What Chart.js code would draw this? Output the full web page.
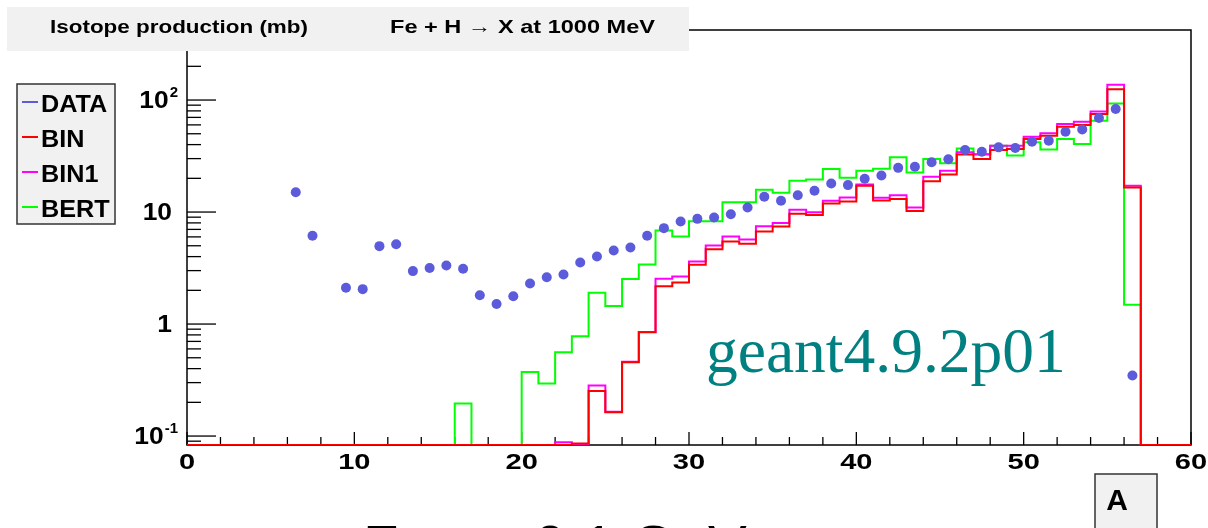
<!DOCTYPE html>
<html><head><meta charset="utf-8">
<script src="https://cdn.jsdelivr.net/npm/chart.js@4.4.1/dist/chart.umd.min.js"></script>
<style>html,body{margin:0;padding:0;background:#fff;}#wrap{width:1208px;height:528px;position:relative;}</style>
</head><body><div id="wrap"><canvas id="c"></canvas></div>
<script>
// ---- data ----
const dataX = [6.5,7.5,9.5,10.5,11.5,12.5,13.5,14.5,15.5,16.5,17.5,18.5,19.5,20.5,21.5,22.5,23.5,24.5,25.5,26.5,
  27.5,28.5,29.5,30.5,31.5,32.5,33.5,34.5,35.5,36.5,37.5,38.5,39.5,40.5,41.5,42.5,43.5,44.5,45.5,46.5,
  47.5,48.5,49.5,50.5,51.5,52.5,53.5,54.5,55.5,56.5];
const dataY = [15.0,6.14,2.11,2.05,4.96,5.16,2.97,3.16,3.33,3.12,1.81,1.51,1.77,2.30,2.62,2.77,3.55,4.01,4.54,4.83,
  6.14,7.18,8.23,8.69,8.93,9.55,10.96,13.7,12.6,14.1,15.5,18.0,17.4,19.8,21.2,24.8,25.4,27.8,29.6,35.8,
  34.6,37.8,37.3,42.5,43.4,52.1,54.7,69.2,83.2,0.347];
// histogram contents, one value per unit bin [0,1),[1,2),...,[59,60)
const binVals = [0,0,0,0,0,0,0,0,0,0,
  0,0,0,0,0,0,0,0,0,0,
  0,0,0,0.086,0.253,0.163,0.456,0.843,2.17,2.35,
  3.38,4.66,5.46,5.2,6.7,7.43,9.64,9.4,11.9,12.4,
  17.2,12.7,13.1,10.2,18.8,21.6,32.6,29.8,35.8,36.5,
  44.9,48.1,57.8,59.8,75.0,125,16.6,0,0,0];
const bin1Vals = [0,0,0,0,0,0,0,0,0,0,
  0,0,0,0,0,0,0,0,0,0,
  0,0,0.088,0,0.282,0.165,0.46,0.85,2.54,2.66,
  3.62,5.03,6.05,5.69,7.47,8.0,10.5,9.96,12.6,13.5,
  17.6,13.4,14.1,11.0,20.7,23.4,34.1,32.6,39.1,39.1,
  47.1,50.4,61.1,64.1,79.1,137,17.2,0,0,0];
const bertVals = [0,0,0,0,0,0,0,0,0,0,
  0,0,0,0,0,0,0.195,0,0,0,
  0.373,0.294,0.56,0.78,1.9,1.45,2.52,3.4,6.84,6.05,
  8.28,8.28,12.2,12.2,15.8,14.9,19.0,19.5,24.2,20.2,
  23.4,24.3,30.8,22.6,29.8,27.2,37.0,33.0,39.1,31.9,
  41.9,36.1,44.9,40.5,65.3,93.3,1.49,0,0,0];
const seriesNames = ['DATA','BIN','BIN1','BERT'];
const xTickValues = [0,10,20,30,40,50,60];
const xTickLabels = ['0','10','20','30','40','50','60'];
const yTickValues = [0.1,1,10,100];
const yTickBase = ['10','1','10','10'];
const yTickExp = ['-1','','','2'];
const titleLeft = 'Isotope production (mb)';
const titleRight = 'Fe + H \u2192 X at 1000 MeV';
const versionText = 'geant4.9.2p01';
const yMin = 0.0832, yMax = 422;

// ---- styles ----
const colors = {DATA:'#5b5bdc', BIN:'#ff0000', BIN1:'#ff00ff', BERT:'#00ff00'};

// empty bins are drawn along the bottom of the log axis (as ROOT does)
function histPoints(vals){
  const pts = vals.map((v,i)=>({x:i, y:Math.max(v, yMin)}));
  pts.push({x:vals.length, y:Math.max(vals[vals.length-1], yMin)});
  return pts;
}
function txt(ctx, s, x, y, font, color, align, base, sx){
  ctx.save(); ctx.font = font; ctx.fillStyle = color;
  ctx.textAlign = align; ctx.textBaseline = base;
  ctx.translate(x, y); ctx.scale(sx || 1, 1); ctx.fillText(s, 0, 0); ctx.restore();
}
function fitTxt(ctx, s, x, y, font, color, width){
  ctx.save(); ctx.font = font;
  const w = ctx.measureText(s).width; ctx.restore();
  txt(ctx, s, x, y, font, color, 'left', 'middle', width / w);
}
function seg(ctx, x1, y1, x2, y2){ ctx.beginPath(); ctx.moveTo(x1,y1); ctx.lineTo(x2,y2); ctx.stroke(); }

const rootPlugin = {
  id: 'rootStyle',
  beforeDraw(chart){
    const ctx = chart.ctx; ctx.save(); ctx.fillStyle = '#fff';
    ctx.fillRect(0,0,chart.width,chart.height); ctx.restore();
  },
  beforeDatasetsDraw(chart){
    const {ctx, chartArea:a, scales:{x, y}} = chart;
    ctx.save(); ctx.strokeStyle = '#000'; ctx.lineWidth = 1.5;
    ctx.strokeRect(a.left, a.top, a.right - a.left, a.bottom - a.top);
    ctx.lineWidth = 1.3;
    for (let v = 0; v <= 60; v += 2){
      const px = x.getPixelForValue(v);
      seg(ctx, px, a.bottom, px, a.bottom - (v % 10 === 0 ? 13 : 8));
    }
    for (let d = -2; d <= 3; d++){
      for (let m = 1; m <= 9; m++){
        const v = m * Math.pow(10, d);
        if (v < y.min || v > y.max) continue;
        const py = y.getPixelForValue(v);
        seg(ctx, a.left, py, a.left + (m === 1 ? 29 : 14), py);
      }
    }
    ctx.restore();
  },
  afterDatasetsDraw(chart){
    const {ctx, chartArea:a, scales:{x, y}} = chart;
    ctx.save();
    // title pad
    ctx.fillStyle = '#f1f1f1'; ctx.fillRect(7, 7, 682, 44);
    fitTxt(ctx, titleLeft, 50, 28, 'bold 19px "Liberation Sans", Arial, sans-serif', '#000', 258);
    fitTxt(ctx, titleRight, 390, 28, 'bold 19px "Liberation Sans", Arial, sans-serif', '#000', 265);
    // x labels
    xTickValues.forEach((v,i)=>{
      txt(ctx, xTickLabels[i], x.getPixelForValue(v), 463, 'bold 22px "Liberation Sans", Arial, sans-serif', '#000', 'center', 'middle', 1.32);
    });
    // y labels
    const bf = 'bold 24px "Liberation Sans", Arial, sans-serif';
    const ef = 'bold 15px "Liberation Sans", Arial, sans-serif';
    yTickValues.forEach((v,i)=>{
      const py = y.getPixelForValue(v);
      if (yTickExp[i]){
        ctx.font = ef; const we = ctx.measureText(yTickExp[i]).width;
        const R = 178;
        txt(ctx, yTickBase[i], R - we - 1, py + 1, bf, '#000', 'right', 'middle', 1.1);
        txt(ctx, yTickExp[i], R - we, py - 7, ef, '#000', 'left', 'middle', 1);
      } else {
        txt(ctx, yTickBase[i], 172, py + 1, bf, '#000', 'right', 'middle', 1.1);
      }
    });
    // legend
    ctx.fillStyle = '#f1f1f1'; ctx.fillRect(17, 84, 98, 140);
    ctx.strokeStyle = '#333'; ctx.lineWidth = 1.5; ctx.strokeRect(17, 84, 98, 140);
    seriesNames.forEach((n,i)=>{
      const cy = 102 + i * 35;
      ctx.strokeStyle = colors[n]; ctx.lineWidth = 2; seg(ctx, 22, cy, 38, cy);
      txt(ctx, n, 41, cy + 9.5, 'bold 24px "Liberation Sans", Arial, sans-serif', '#000', 'left', 'alphabetic', 1.05);
    });
    // version label
    txt(ctx, versionText, 706, 372, '63.5px "Liberation Serif", "Times New Roman", serif', '#008080', 'left', 'alphabetic', 1);
    // A box
    ctx.fillStyle = '#f1f1f1'; ctx.fillRect(1095, 474, 62, 70);
    ctx.strokeStyle = '#333'; ctx.lineWidth = 1.5; ctx.strokeRect(1095, 474, 62, 70);
    txt(ctx, 'A', 1117, 502, 'bold 30px "Liberation Sans", Arial, sans-serif', '#000', 'center', 'middle', 1);
    // slide caption (cut off at the bottom)
    txt(ctx, 'Fe + p', 363, 566, '58px "Liberation Sans", Arial, sans-serif', '#000', 'left', 'alphabetic', 1);
    txt(ctx, '0.1 GeV', 534, 566, '58px "Liberation Sans", Arial, sans-serif', '#000', 'left', 'alphabetic', 1);
    ctx.restore();
  }
};

new Chart(document.getElementById('c'), {
  type: 'line',
  data: {
    datasets: [
      {label:'DATA', data: dataX.map((v,i)=>({x:v, y:dataY[i]})), showLine:false,
       pointRadius:5, pointHoverRadius:5, pointBackgroundColor:colors.DATA, pointBorderColor:colors.DATA, pointBorderWidth:0, order:0},
      {label:'BIN', data: histPoints(binVals), stepped:true, borderColor:colors.BIN, borderWidth:2, pointRadius:0, fill:false, order:1},
      {label:'BIN1', data: histPoints(bin1Vals), stepped:true, borderColor:colors.BIN1, borderWidth:2, pointRadius:0, fill:false, order:2},
      {label:'BERT', data: histPoints(bertVals), stepped:true, borderColor:colors.BERT, borderWidth:2, pointRadius:0, fill:false, order:3}
    ]
  },
  options: {
    responsive: true, maintainAspectRatio: false, animation: false, devicePixelRatio: 1,
    layout: {padding: {left:187, right:17, top:30, bottom:83}},
    scales: {
      x: {type:'linear', min:0, max:60, display:false},
      y: {type:'logarithmic', min:yMin, max:yMax, display:false}
    },
    plugins: {legend:{display:false}, tooltip:{enabled:false}, title:{display:false}},
    events: []
  },
  plugins: [rootPlugin]
});
</script></body></html>
